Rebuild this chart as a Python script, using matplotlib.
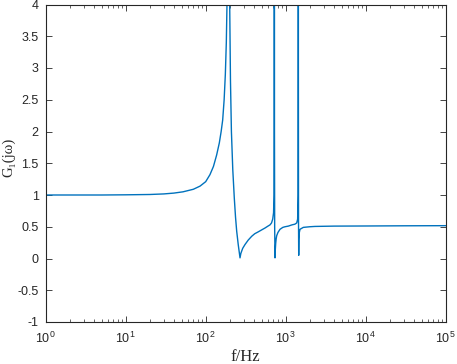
import matplotlib
matplotlib.use("Agg")
import matplotlib.pyplot as plt
from matplotlib.ticker import LogLocator, NullFormatter

# ---- data ----
freq_hz = [1, 2, 5, 10, 20, 30, 40, 52, 70, 85, 100, 113, 125, 137, 148, 156, 163,
           170, 176, 181, 184.5, 188, 192, 196, 199.5, 204, 209.6, 218, 227.8, 236,
           244, 255, 262, 268.5, 275, 290, 310, 340, 376, 410, 454, 500, 551, 600,
           637, 665, 688, 705, 714, 718, 721, 724, 728, 735, 740, 750, 760, 772,
           800, 849, 920, 980, 1078, 1200, 1300, 1373, 1410, 1428, 1434, 1437,
           1441, 1446, 1454, 1462, 1475, 1510, 1660, 2000, 2323, 4000, 10000,
           30000, 100000]
gain = [1.0, 1.0, 1.0, 1.003, 1.008, 1.017, 1.03, 1.05, 1.09, 1.14, 1.21, 1.32,
        1.45, 1.63, 1.82, 2.0, 2.18, 2.5, 2.9, 3.4, 4.0, 6.5, 20.0, 8.0, 4.0,
        2.8, 2.0, 1.4, 0.95, 0.65, 0.43, 0.22, 0.11, 0.01, 0.08, 0.16, 0.22,
        0.29, 0.35, 0.39, 0.42, 0.45, 0.48, 0.51, 0.53, 0.56, 0.62, 0.72, 1.0,
        2.0, 20.0, 2.0, 0.5, 0.01, 0.12, 0.24, 0.31, 0.36, 0.41, 0.46, 0.49,
        0.5, 0.51, 0.53, 0.54, 0.56, 0.62, 1.0, 3.0, 20.0, 3.0, 0.6, 0.05,
        0.3, 0.4, 0.46, 0.49, 0.5, 0.505, 0.51, 0.512, 0.515, 0.517]

x_ticks = [1, 10, 100, 1000, 10000, 100000]
y_ticks = [-1, -0.5, 0, 0.5, 1, 1.5, 2, 2.5, 3, 3.5, 4]

plt.rcParams['mathtext.fontset'] = 'custom'
plt.rcParams['mathtext.rm'] = 'Liberation Sans'
plt.rcParams['mathtext.it'] = 'Liberation Sans:italic'
plt.rcParams['font.family'] = ['Liberation Sans', 'DejaVu Sans']

W, H = 457, 364
fig = plt.figure(figsize=(W / 100, H / 100), dpi=100)
left, right, top, bottom = 45.7, 445.7, 4.5, 322
ax = fig.add_axes([left / W, 1 - bottom / H, (right - left) / W, (bottom - top) / H])

ax.plot(freq_hz, gain, color='#0072BD', lw=1.0)
ax.set_xscale('log')
ax.set_xlim(1, 1e5)
ax.set_ylim(-1, 4)
ax.set_xticks(x_ticks)
ax.xaxis.set_minor_locator(LogLocator(base=10, subs=range(2, 10), numticks=50))
ax.xaxis.set_minor_formatter(NullFormatter())
ax.set_yticks(y_ticks)
ax.yaxis.set_major_formatter(matplotlib.ticker.FuncFormatter(lambda v, p: ('%g' % v)))

edge = '#262626'
for s in ax.spines.values():
    s.set_color(edge)
    s.set_linewidth(0.8)
ax.tick_params(which='both', direction='in', top=True, right=True, colors=edge,
               labelsize=9, labelcolor=edge)
ax.tick_params(which='major', length=4, width=0.6)
ax.tick_params(which='minor', length=2.2, width=0.5)
ax.tick_params(axis='x', pad=6)
ax.tick_params(axis='y', pad=5)

ax.set_xlabel('f/Hz', family=['Liberation Serif', 'DejaVu Serif'], fontsize=12,
              color=edge)
ax.xaxis.set_label_coords(0.5, -0.085)
ax.xaxis.label.set_va('top')
ax.set_ylabel('G\u2081(jω)', family=['Liberation Serif', 'DejaVu Serif'], fontsize=10.5,
              color=edge)
ax.yaxis.set_label_coords(-0.077, (bottom - 157) / (bottom - top))

fig.savefig('out.png', dpi=100)
